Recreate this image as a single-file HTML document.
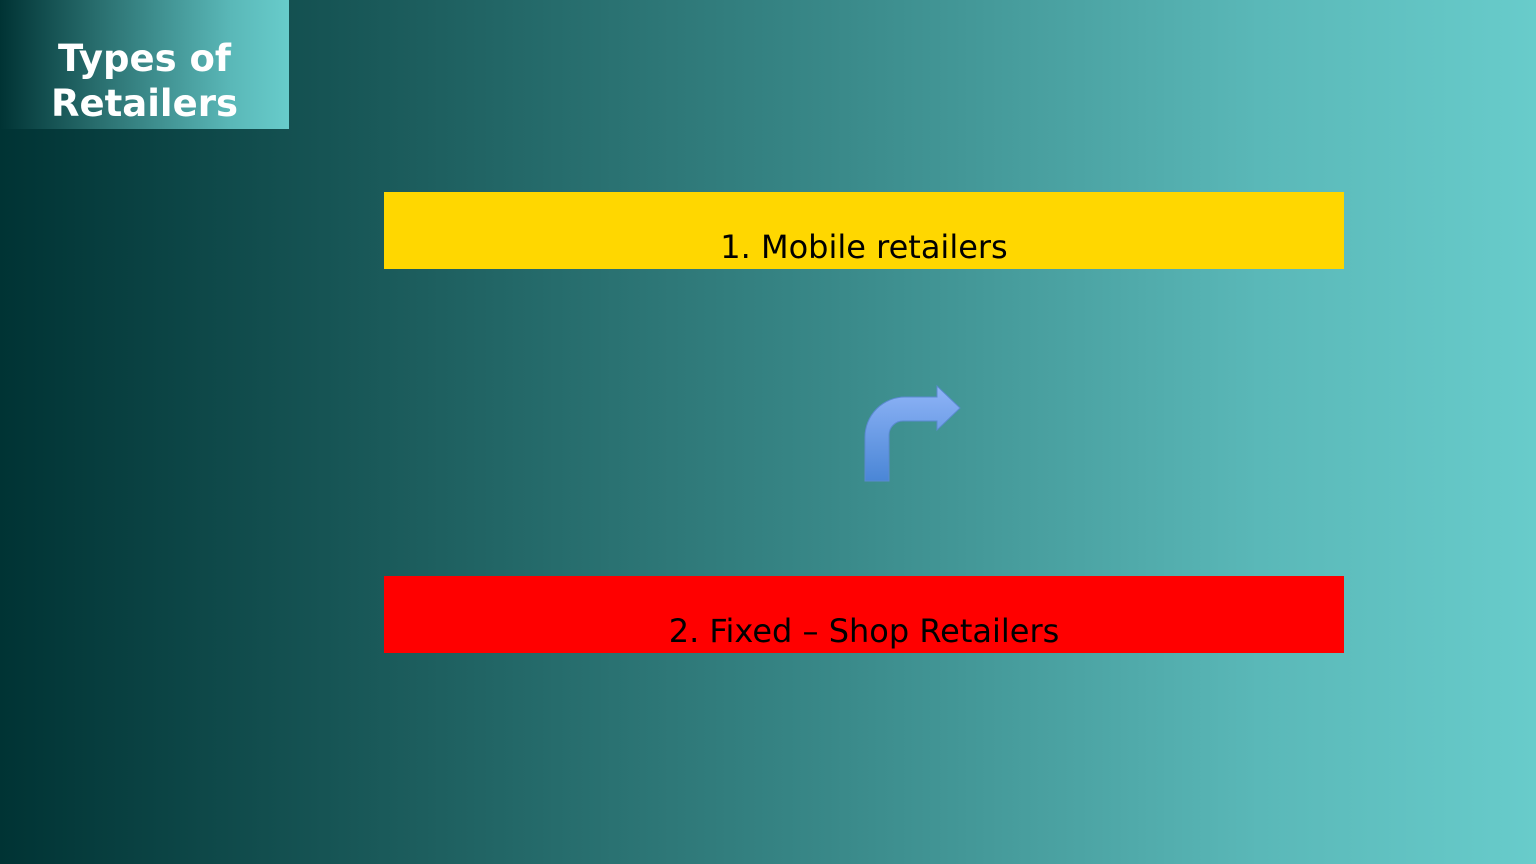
<!DOCTYPE html>
<html><head><meta charset="utf-8">
<style>
html,body{margin:0;padding:0}
body{width:1536px;height:864px;position:relative;overflow:hidden;
background:linear-gradient(to right,#003334 0%,#1a5a5a 25%,#3a8a8a 55%,#5ab8b8 82%,#68cccb 100%);
font-family:"DejaVu Sans","Liberation Sans",sans-serif}
#title{position:absolute;left:0;top:0;width:289px;height:129px;
background:linear-gradient(to right,#003334 0%,#2a7070 35%,#5ab8b8 80%,#68cccb 100%);
color:#fff;font-weight:bold;font-size:37px;line-height:45px;text-align:center;box-sizing:border-box;padding-top:36px}
.bar{position:absolute;left:384px;width:960px;height:77px;text-align:center;font-size:32px;color:#000;box-sizing:border-box;padding-top:36px;line-height:38px}
</style></head><body>
<div id="title">Types of<br>Retailers</div>
<div class="bar" style="top:192px;background:#ffd700">1. Mobile retailers</div>
<svg style="position:absolute;left:855px;top:380px" width="115" height="110">
<defs><linearGradient id="g" x1="0" y1="0" x2="0" y2="1"><stop offset="0" stop-color="#8fb4f7"/><stop offset="1" stop-color="#4a86d6"/></linearGradient></defs>
<path d="M10 101 V57 A40 40 0 0 1 50 17 H82 V6 L105 28 L82 50 V41 H48 A14 14 0 0 0 34 55 V101 Z" fill="url(#g)" stroke="#5a8ad0" stroke-width="1"/>
</svg>
<div class="bar" style="top:576px;background:#ff0000">2. Fixed – Shop Retailers</div>
</body></html>
